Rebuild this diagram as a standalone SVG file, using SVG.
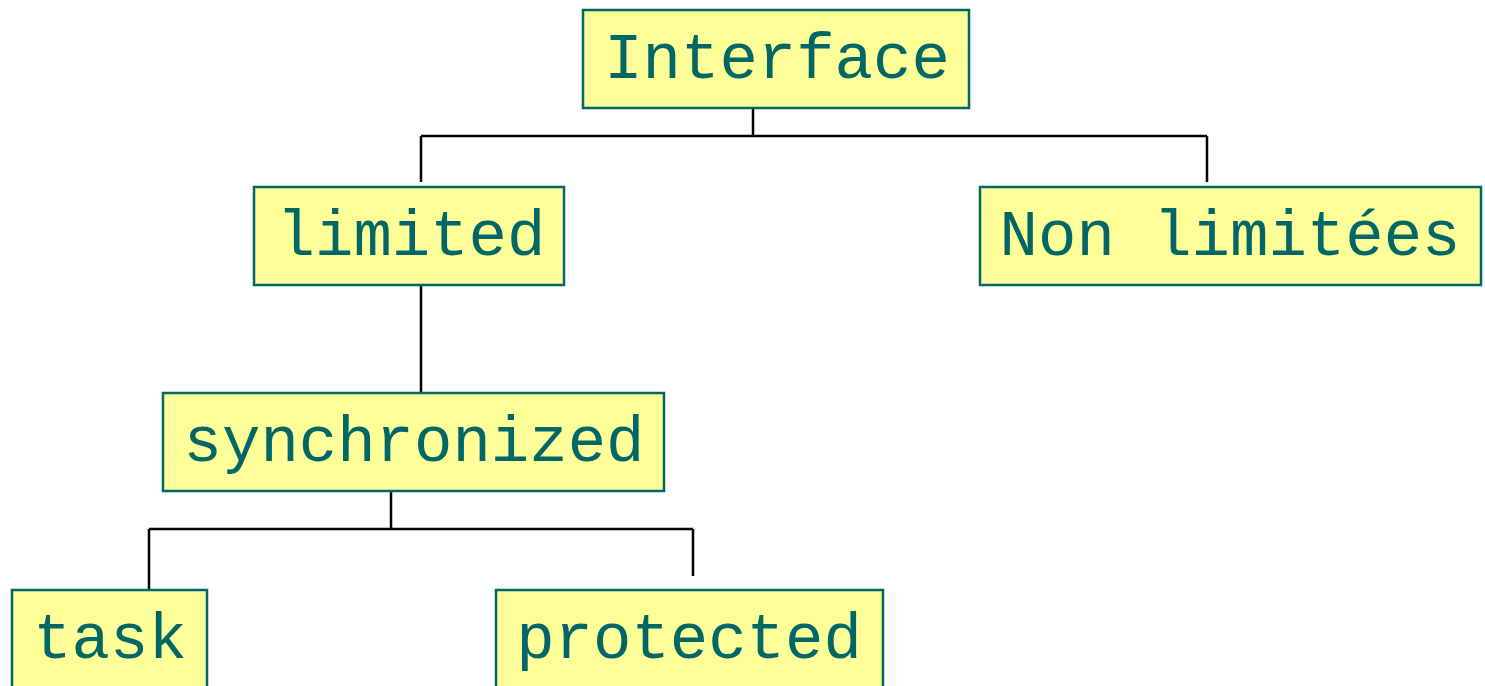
<svg xmlns="http://www.w3.org/2000/svg" width="1485" height="686" viewBox="0 0 1485 686">
  <style>
    .box { fill: #ffff99; stroke: #006666; stroke-width: 2.5; }
    .lbl { font-family: "Courier New", "FreeMono", "Nimbus Mono PS", "Liberation Mono", monospace; font-size: 64px; fill: #006666; text-anchor: middle; }
    .wire { fill: none; stroke: #000000; stroke-width: 2.5; }
  </style>
  <rect width="1485" height="686" fill="#ffffff"/>

  <g id="connectors">
    <!-- Interface to its two children -->
    <path class="wire" d="M753 105 V136 M421 136 H1207 M421 136 V182 M1207 136 V182"/>
    <!-- limited to synchronized -->
    <path class="wire" d="M421 286 V393"/>
    <!-- synchronized to task / protected -->
    <path class="wire" d="M391 484 V529 M149 529 H693 M149 529 V590 M693 529 V576"/>
  </g>

  <g id="node-interface">
    <rect class="box" x="583" y="10" width="386" height="98"/>
    <text class="lbl" x="777" y="78">Interface</text>
  </g>
  <g id="node-limited">
    <rect class="box" x="254" y="187" width="310" height="98"/>
    <text class="lbl" x="411" y="255">limited</text>
  </g>
  <g id="node-non-limitees">
    <rect class="box" x="980" y="187" width="501" height="98"/>
    <text class="lbl" x="1230" y="255">Non limitées</text>
  </g>
  <g id="node-synchronized">
    <rect class="box" x="163" y="393" width="501" height="98"/>
    <text class="lbl" x="414" y="461">synchronized</text>
  </g>
  <g id="node-task">
    <rect class="box" x="12" y="590" width="195" height="110"/>
    <text class="lbl" x="110" y="658">task</text>
  </g>
  <g id="node-protected">
    <rect class="box" x="496" y="590" width="387" height="110"/>
    <text class="lbl" x="689" y="658">protected</text>
  </g>
</svg>
